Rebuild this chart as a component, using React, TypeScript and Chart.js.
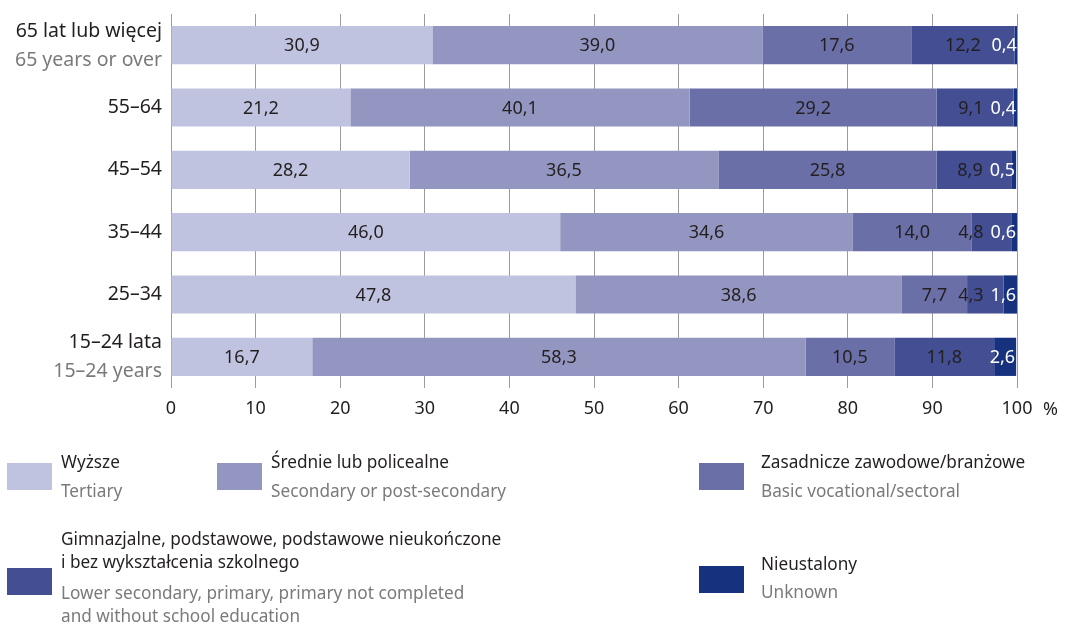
import React, { useEffect, useRef } from 'react';
import { Chart, registerables } from 'chart.js';

Chart.register(...registerables);

const categoriesPl = ['65 lat lub więcej', '55–64', '45–54', '35–44', '25–34', '15–24 lata'];
const categoriesEn = ['65 years or over', '', '', '', '', '15–24 years'];

const tertiary = [30.9, 21.2, 28.2, 46.0, 47.8, 16.7];
const secondary = [39.0, 40.1, 36.5, 34.6, 38.6, 58.3];
const vocational = [17.6, 29.2, 25.8, 14.0, 7.7, 10.5];
const lowerSecondary = [12.2, 9.1, 8.9, 4.8, 4.3, 11.8];
const unknown = [0.4, 0.4, 0.5, 0.6, 1.6, 2.6];

const seriesPl = [
  ['Wyższe'],
  ['Średnie lub policealne'],
  ['Zasadnicze zawodowe/branżowe'],
  ['Gimnazjalne, podstawowe, podstawowe nieukończone', 'i bez wykształcenia szkolnego'],
  ['Nieustalony'],
];
const seriesEn = [
  ['Tertiary'],
  ['Secondary or post-secondary'],
  ['Basic vocational/sectoral'],
  ['Lower secondary, primary, primary not completed', 'and without school education'],
  ['Unknown'],
];
const seriesColors = ['#c0c3df', '#9396c1', '#6a6fa8', '#434f92', '#16327f'];
const axisUnit = '%';

const FONT = '"Noto Sans", sans-serif';
const DARK = '#231f20';
const GREY = '#7a7a7a';

const fmt = (v: number) => v.toFixed(1).replace('.', ',');

// legend layout (positions only)
const legendSlots = [
  { sx: 7, sy: 463, tx: 61, ply: [463], eny: [492] },
  { sx: 217, sy: 463, tx: 271, ply: [463], eny: [492] },
  { sx: 699, sy: 463, tx: 761, ply: [463], eny: [492] },
  { sx: 7, sy: 568, tx: 61, ply: [540, 563], eny: [594, 617] },
  { sx: 699, sy: 566, tx: 761, ply: [565], eny: [593] },
];

const drawPlugin = {
  id: 'customDraw',
  afterDatasetsDraw(chart: any) {
    const ctx = chart.ctx;
    ctx.save();
    ctx.font = `18px ${FONT}`;
    ctx.textBaseline = 'middle';
    const n = chart.data.datasets.length;
    const rows = chart.data.labels.length;
    for (let j = 0; j < rows; j++) {
      let prevLeft = Infinity;
      for (let i = n - 1; i >= 0; i--) {
        const el = chart.getDatasetMeta(i).data[j];
        const v = chart.data.datasets[i].data[j];
        const txt = fmt(v);
        const w = ctx.measureText(txt).width;
        let right: number;
        if (i === n - 1) {
          right = el.x - 1;
          ctx.fillStyle = '#ffffff';
        } else {
          const c = (el.x + el.base) / 2;
          right = c + w / 2;
          if (right > prevLeft - 7) right = prevLeft - 7;
          ctx.fillStyle = DARK;
        }
        ctx.textAlign = 'left';
        ctx.fillText(txt, right - w, el.y + 1);
        prevLeft = right - w;
      }
    }
    ctx.restore();
  },
  afterDraw(chart: any) {
    const ctx = chart.ctx;
    const area = chart.chartArea;
    ctx.save();
    // y labels
    ctx.font = `19.5px ${FONT}`;
    ctx.textAlign = 'right';
    ctx.textBaseline = 'middle';
    const yScale = chart.scales.y;
    categoriesPl.forEach((lab, j) => {
      const y = yScale.getPixelForValue(j);
      const en = categoriesEn[j];
      if (en) {
        ctx.fillStyle = DARK;
        ctx.fillText(lab, area.left - 9, y - 14);
        ctx.fillStyle = GREY;
        ctx.fillText(en, area.left - 9, y + 15);
      } else {
        ctx.fillStyle = DARK;
        ctx.fillText(lab, area.left - 9, y);
      }
    });
    // % unit
    ctx.font = `18px ${FONT}`;
    ctx.textAlign = 'left';
    ctx.fillStyle = DARK;
    ctx.fillText(axisUnit, 1043, 410);
    // legend
    ctx.font = `17.2px ${FONT}`;
    legendSlots.forEach((s, i) => {
      ctx.fillStyle = seriesColors[i];
      ctx.fillRect(s.sx, s.sy, 45, 27);
      ctx.fillStyle = DARK;
      seriesPl[i].forEach((t, k) => ctx.fillText(t, s.tx, s.ply[k]));
      ctx.fillStyle = GREY;
      seriesEn[i].forEach((t, k) => ctx.fillText(t, s.tx, s.eny[k]));
    });
    ctx.restore();
  },
};

export default function App() {
  const ref = useRef<HTMLCanvasElement>(null);
  useEffect(() => {
    document.body.style.margin = '0';
    const series = [tertiary, secondary, vocational, lowerSecondary, unknown];
    const chart = new Chart(ref.current as HTMLCanvasElement, {
      type: 'bar',
      data: {
        labels: categoriesPl,
        datasets: series.map((d, i) => ({
          label: seriesPl[i].join(' '),
          data: d,
          backgroundColor: seriesColors[i],
          borderWidth: 0,
          barPercentage: 0.613,
          categoryPercentage: 1,
        })),
      },
      options: {
        indexAxis: 'y',
        responsive: false,
        animation: false,
        layout: { padding: { left: 0, right: 52, top: 14, bottom: 197 } },
        plugins: { legend: { display: false }, tooltip: { enabled: false } },
        scales: {
          x: {
            stacked: true,
            min: 0,
            max: 100,
            ticks: { stepSize: 10, color: DARK, font: { family: FONT, size: 18 }, padding: 10 },
            grid: { color: '#9b9b9b', lineWidth: 1, drawTicks: false },
            border: { display: false },
            afterFit: (s: any) => { s.height = 40; },
          },
          y: {
            stacked: true,
            ticks: { display: false },
            grid: { display: false },
            border: { display: false },
            afterFit: (s: any) => { s.width = 171; },
          },
        },
      },
      plugins: [drawPlugin],
    } as any);
    return () => chart.destroy();
  }, []);
  return <canvas ref={ref} width={1069} height={625} style={{ display: 'block', width: 1069, height: 625 }} />;
}
